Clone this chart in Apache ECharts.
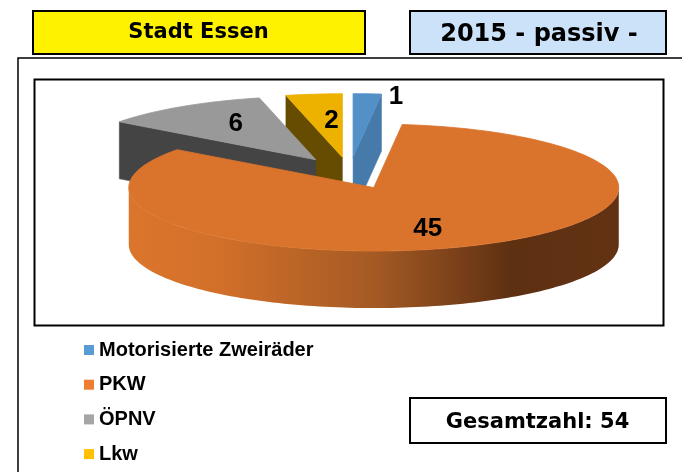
<!DOCTYPE html>
<html><head><meta charset="utf-8">
<style>html,body{margin:0;padding:0;background:#fff}#c{width:682px;height:472px}</style>
<script src="https://cdn.jsdelivr.net/npm/echarts@6/dist/echarts.min.js"></script>
</head><body><div id="c"></div>
<script>
const categories = ['Motorisierte Zweiräder', 'PKW', 'ÖPNV', 'Lkw'];
const values = [1, 45, 6, 2];
const legendColors = ['#5B9BD5', '#ED7D31', '#A5A5A5', '#FFC000'];
const topColors = ['#5490C8', '#DA742C', '#999999', '#EDB200'];
const sideColors = ['#457AAB', '#DA742C', '#444444', '#664C00'];
const drawOrder = [3, 2, 0, 1];
const labelOffsets = [[43, -60], [54, 41], [-80, -36], [-11, -36]];

const pie = { cx: 349.5, cy: 173, rx: 245, ry: 63.5, depth: 57, explode: 0.25 };
const total = values.reduce((a, b) => a + b, 0);
const starts = values.map((_, i) => values.slice(0, i).reduce((a, b) => a + b, 0));

function pt(c, a, y0) {
  return [c[0] + pie.rx * Math.sin(a), (y0 || 0) + c[1] - pie.ry * Math.cos(a)];
}
function arc(c, a0, a1, y0) {
  const n = Math.max(2, Math.ceil(Math.abs(a1 - a0) * 40)), out = [];
  for (let k = 0; k <= n; k++) out.push(pt(c, a0 + (a1 - a0) * k / n, y0));
  return out;
}
function renderSlice(params, api) {
  const i = api.value(0);
  const a0 = api.value(1) / total * 2 * Math.PI;
  const a1 = a0 + api.value(2) / total * 2 * Math.PI;
  const mid = (a0 + a1) / 2;
  const tip = [pie.cx + pie.rx * pie.explode * Math.sin(mid), pie.cy - pie.ry * pie.explode * Math.cos(mid)];
  const d = pie.depth, kids = [];
  const wall = (p, q, fill) => kids.push({ type: 'polygon',
    shape: { points: [p, q, [q[0], q[1] + d], [p[0], p[1] + d]] }, style: { fill, stroke: fill, lineWidth: 0.5 } });
  const p0 = pt(tip, a0), p1 = pt(tip, a1);
  // radial walls that face the viewer
  if (a0 < 1e-6) wall(tip, p1, sideColors[i]);
  if (a0 > Math.PI) wall(tip, p0, sideColors[i]);
  // outer rim, front half only
  const f0 = Math.max(a0, Math.PI / 2), f1 = Math.min(a1, 3 * Math.PI / 2);
  if (f1 > f0) {
    kids.push({ type: 'polygon',
      shape: { points: arc(tip, f0, f1).concat(arc(tip, f1, f0, d)) },
      style: { fill: new echarts.graphic.LinearGradient(0, 0, 1, 0, [
        { offset: 0, color: '#DC752C' }, { offset: 0.18, color: '#D2702A' },
        { offset: 0.5, color: '#A55A24' }, { offset: 0.78, color: '#5E3012' }, { offset: 1, color: '#623213' }
      ]) } });
  }
  kids.push({ type: 'polygon', shape: { points: [tip].concat(arc(tip, a0, a1)) },
    style: { fill: topColors[i], stroke: topColors[i], lineWidth: 0.8 } });
  kids.push({ type: 'text', style: {
    x: tip[0] + labelOffsets[i][0], y: tip[1] + labelOffsets[i][1], text: String(api.value(2)),
    fill: '#000', font: 'bold 26px "Liberation Sans"', align: 'center', verticalAlign: 'middle' } });
  return { type: 'group', children: kids };
}
function frame(x, y, w, h, fill, lw) {
  return { type: 'rect', shape: { x, y, width: w, height: h }, style: { fill, stroke: '#000', lineWidth: lw } };
}
function caption(x, y, text, size) {
  return { type: 'text', style: { x, y, text, fill: '#000', font: 'bold ' + size + 'px "DejaVu Sans"', align: 'center', verticalAlign: 'middle' } };
}
const chart = echarts.init(document.getElementById('c'), null, { renderer: 'canvas' });
chart.setOption({
  animation: false,
  backgroundColor: '#fff',
  legend: {
    orient: 'vertical', left: 84, top: 340, padding: 0, itemWidth: 10, itemHeight: 10, itemGap: 14.7,
    icon: 'rect', selectedMode: false, data: categories,
    textStyle: { color: '#000', fontFamily: 'Liberation Sans', fontWeight: 'bold', fontSize: 20, padding: [0, 0, 0, 0], height: 20, lineHeight: 20 }
  },
  graphic: { elements: [
    frame(18, 58, 690, 440, '#fff', 1.5),
    frame(34.5, 79.5, 629, 246, '#fff', 2),
    frame(33, 11, 332, 43, '#FFF200', 2),
    frame(410, 11, 256, 43, '#CCE2F8', 2),
    frame(410, 398, 256, 45, '#fff', 2),
    caption(198.5, 33, 'Stadt Essen', 21),
    caption(539, 35, '2015 - passiv -', 24),
    caption(537.5, 423, 'Gesamtzahl: 54', 21)
  ].map(e => Object.assign(e, { silent: true, z: e.type === 'text' ? 1 : 0 })) },
  series: drawOrder.map(i => ({
    type: 'custom', name: categories[i], coordinateSystem: 'none', z: 5,
    itemStyle: { color: legendColors[i] },
    data: [[i, starts[i], values[i]]],
    renderItem: renderSlice, silent: true
  }))
});
</script></body></html>
